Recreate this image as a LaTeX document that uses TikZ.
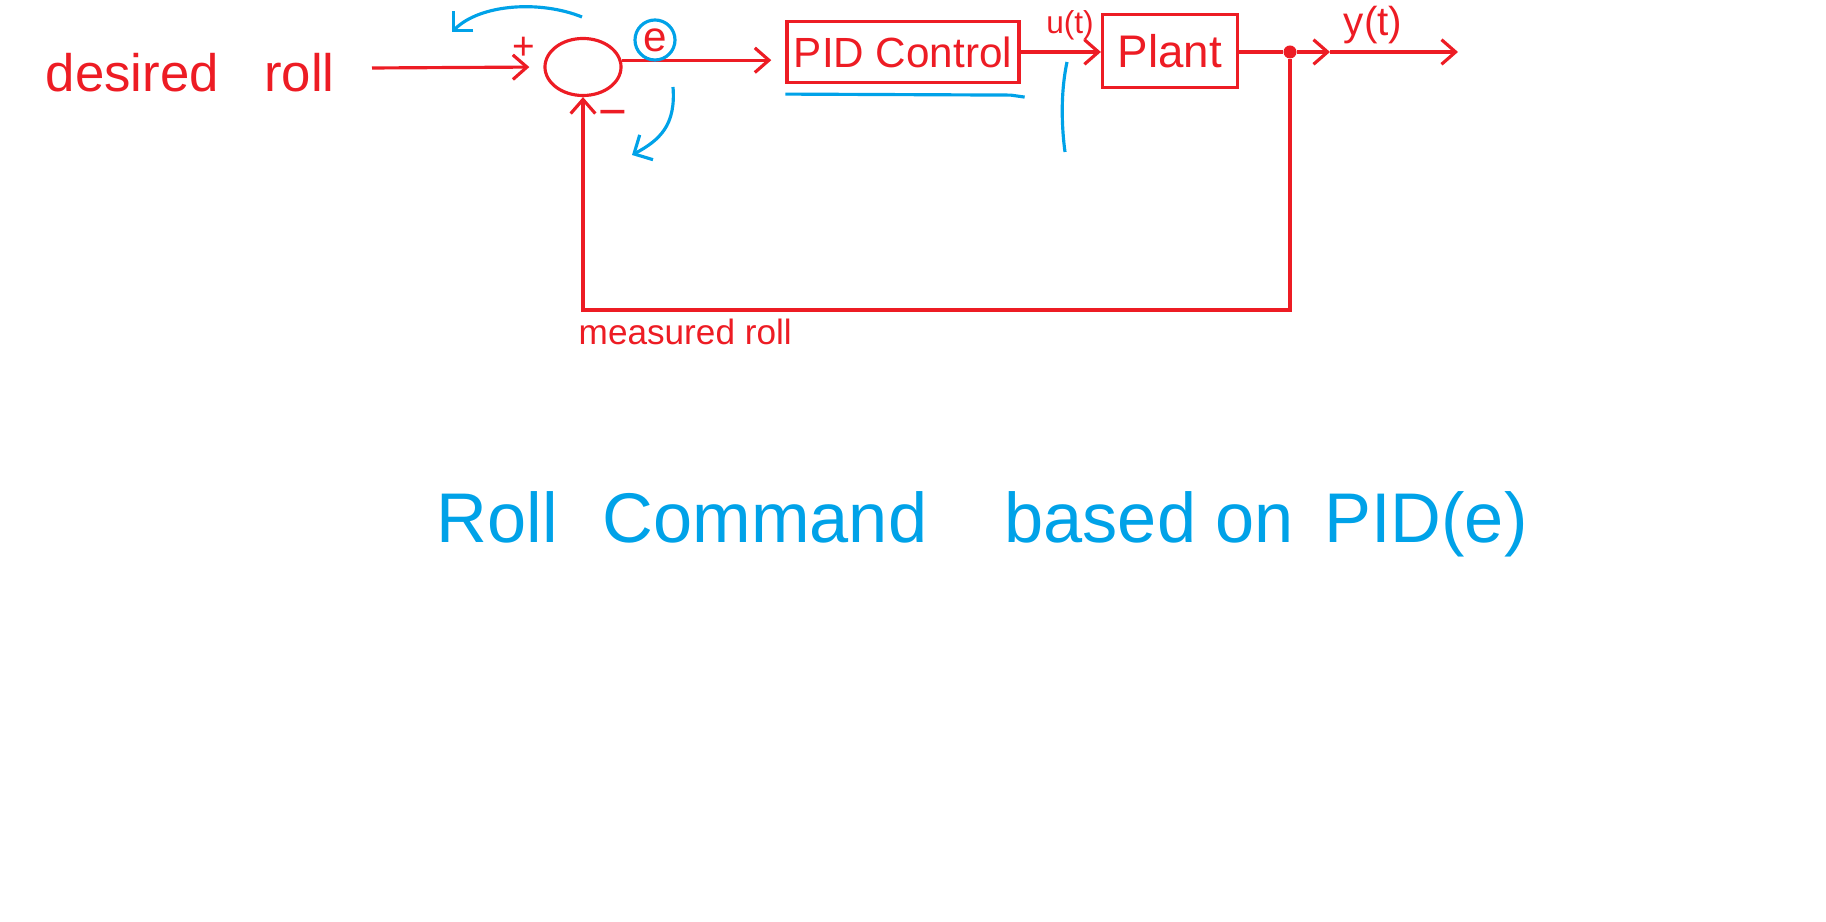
\documentclass[tikz,border=0pt]{standalone}
\usepackage{fontspec}
\setmainfont{Liberation Sans}
\usepackage{xcolor}
\usetikzlibrary{arrows.meta,shapes.geometric}
\definecolor{penred}{HTML}{ED1C24}
\definecolor{penblue}{HTML}{00A2E8}
\tikzset{
    red-line/.style = {draw=penred, line width=0.9pt},
    red-arrow/.style = {red-line, -{Straight Barb[length=4pt,width=7pt]}},
    blue-line/.style = {draw=penblue, line width=0.9pt},
    blue-arrow/.style = {blue-line, -{Straight Barb[length=4pt,width=8pt]}},
    block-box/.style = {draw=penred, line width=0.9pt, rectangle, inner sep=0pt, text=penred},
    sum-node/.style = {draw=penred, line width=0.9pt, ellipse, minimum width=0.76cm, minimum height=0.57cm, inner sep=0pt},
    red-text/.style = {text=penred, inner sep=0pt},
    blue-text/.style = {text=penblue, inner sep=0pt},
}

\begin{document}
\begin{tikzpicture}[x=0.01cm, y=-0.01cm]
\useasboundingbox (0,0) rectangle (1826,922);
% input and summing point
\node[red-text, anchor=base west, font=\fontsize{15}{18}\selectfont] (desired) at (45,92) {desired\hspace{13pt}roll};
\coordinate (in) at (372,68);
\node[sum-node] (sum) at (583,67) {};
\node[red-text, font=\fontsize{11}{13}\selectfont] (plus) at (524,48) {+};
\node[red-text, font=\fontsize{14}{16}\selectfont] (minus) at (613,119) {−};
\draw[red-arrow, shorten >=4pt] (in) -- (sum.west);

% forward path
\node[block-box, minimum width=2.32cm, minimum height=0.61cm, font=\fontsize{12}{14}\selectfont] (pid) at (903,52) {PID Control};
\node[block-box, minimum width=1.35cm, minimum height=0.73cm, font=\fontsize{13}{15}\selectfont] (plant) at (1170,51) {Plant};
\draw[red-arrow, shorten >=4pt] (sum.10) -- (sum.10 -| pid.west);
\draw[red-arrow] (pid.east) -- (pid.east -| plant.west);
\node[red-text, font=\fontsize{9}{11}\selectfont] (ut) at (1070,25) {u(t)};

% output
\node[circle, fill=penred, inner sep=0pt, minimum size=0.13cm] (tap) at (1290,52) {};
\coordinate (ymid) at (1330,52);
\coordinate (yend) at (1458,52);
\draw[red-line] (plant.east |- tap) -- (tap);
\draw[red-arrow] (tap) -- (ymid);
\draw[red-arrow] (ymid) -- (yend);
\node[red-text, font=\fontsize{11.5}{13}\selectfont] (yt) at (1373,25) {y(t)};

% feedback
\coordinate (fb) at (1302,310);
\draw[red-arrow] (tap) -- (tap |- fb) -| (sum.south);
\node[red-text, anchor=base west, font=\fontsize{10}{12}\selectfont] (measured) at (578,345) {measured roll};

% blue notes
\node[circle, draw=penblue, line width=0.9pt, minimum size=0.4cm, inner sep=0pt, text=penred, font=\fontsize{12}{14}\selectfont] (err) at (655,40) {e};
\coordinate (up-from) at (582,17);
\coordinate (up-to) at (452,32);
\draw[blue-arrow] (up-from) .. controls (540,0) and (480,4) .. (up-to);
\coordinate (down-from) at (673,87);
\coordinate (down-to) at (632,155);
\draw[blue-arrow] (down-from) .. controls (676,125) and (660,140) .. (down-to);
\draw[blue-line] ([yshift=-0.1cm]pid.south west) -- ([xshift=-0.1cm, yshift=-0.11cm]pid.south east) -- ([xshift=0.04cm, yshift=-0.13cm]pid.south east);
\coordinate (tick-top) at (1067,62);
\coordinate (tick-bottom) at (1065,152);
\draw[blue-line] (tick-top) .. controls (1060,95) and (1062,130) .. (tick-bottom);
\node[blue-text, anchor=base west, font=\fontsize{20}{24}\selectfont] (note) at (436,543) {Roll\hspace{12.8pt}Command\hspace{22pt}based\hspace{5.4pt}on\hspace{8.8pt}PID(e)};
\end{tikzpicture}
\end{document}
